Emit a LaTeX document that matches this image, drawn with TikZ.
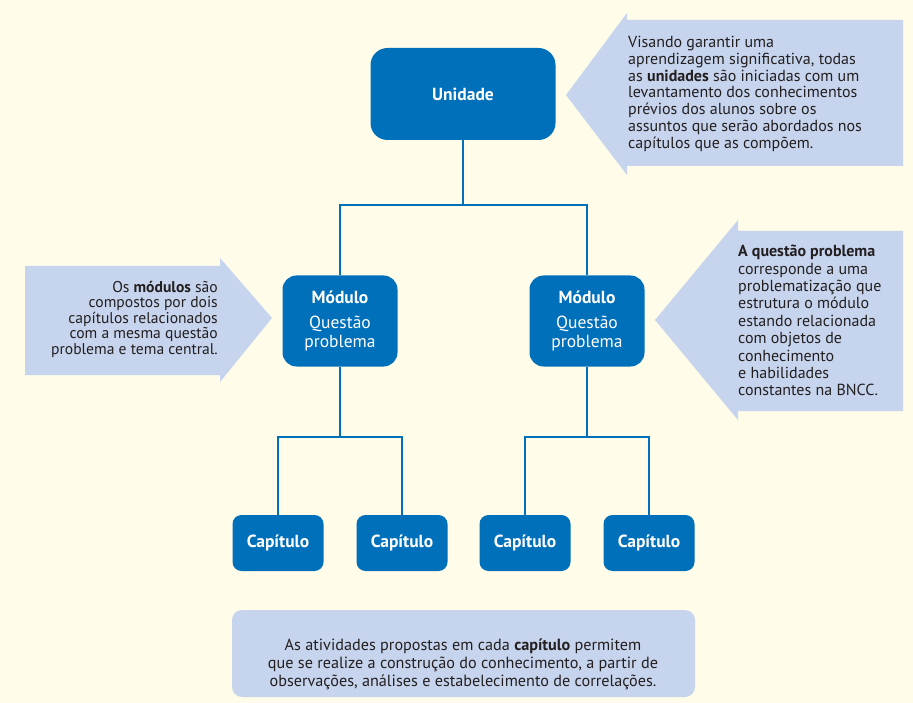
\documentclass[tikz,border=0pt]{standalone}
\usepackage{fontspec}
\setmainfont{PT Sans}
\usetikzlibrary{positioning}
\definecolor{azul}{RGB}{0,112,186}
\definecolor{claro}{RGB}{198,212,237}
\definecolor{fundo}{RGB}{255,252,234}
\definecolor{tinta}{RGB}{35,31,32}

\begin{document}
\begin{tikzpicture}
	[x=1pt, y=-1pt,
	box/.style = {fill=azul, text=white, align=center, inner sep=0pt, font=\fontsize{17.5}{19}\selectfont},
	nota/.style = {text=tinta, inner sep=0pt},
	liga/.style = {draw=azul, line width=1.5pt}]
	\fill[fundo] (0,0) rectangle (913,703);
	\useasboundingbox (0,0) rectangle (913,703);
	% setas de fundo
	\fill[claro] (566,95) -- (627,13) -- (627,20) -- (903,20) -- (903,166) -- (627,166) -- (627,175) -- cycle;
	\fill[claro] (25,266) -- (220,266) -- (220,258) -- (272,318) -- (220,382) -- (220,375) -- (25,375) -- cycle;
	\fill[claro] (655,320) -- (738,220) -- (738,231) -- (903,231) -- (903,411) -- (738,411) -- (738,420) -- cycle;
	\fill[claro, rounded corners=10pt] (232,610) rectangle (695,697);
	% caixas
	\node[box, rounded corners=17pt, minimum width=185pt, minimum height=92pt] (u) at (463,94) {\textbf{Unidade}};
	\node[box, rounded corners=14pt, minimum width=115pt, minimum height=91pt] (m1) at (340,321) {\textbf{Módulo}\\[6pt]Questão\\problema};
	\node[box, rounded corners=14pt, minimum width=115pt, minimum height=91pt] (m2) at (587,321) {\textbf{Módulo}\\[6pt]Questão\\problema};
	\node[box, rounded corners=9pt, minimum width=91pt, minimum height=56pt] (c1) at (278,543) {\textbf{Capítulo}};
	\node[box, rounded corners=9pt, minimum width=91pt, minimum height=56pt] (c2) at (402,543) {\textbf{Capítulo}};
	\node[box, rounded corners=9pt, minimum width=91pt, minimum height=56pt] (c3) at (525,543) {\textbf{Capítulo}};
	\node[box, rounded corners=9pt, minimum width=91pt, minimum height=56pt] (c4) at (649,543) {\textbf{Capítulo}};
	% ligacoes
	\coordinate (j0) at (463,205);
	\coordinate (j1) at (340,437);
	\coordinate (j2) at (587,437);
	\draw[liga] (u) -- (j0);
	\draw[liga] (m1) |- (j0) -| (m2);
	\draw[liga] (m1) -- (j1);
	\draw[liga] (c1) |- (j1) -| (c2);
	\draw[liga] (m2) -- (j2);
	\draw[liga] (c3) |- (j2) -| (c4);
	% textos
	\node[nota, anchor=north west, align=left, font=\fontsize{16}{16.8}\selectfont] (t1) at (628,36)
		{Visando garantir uma\\aprendizagem significativa, todas\\as \textbf{unidades} são iniciadas com um\\levantamento dos conhecimentos\\prévios dos alunos sobre os\\assuntos que serão abordados nos\\capítulos que as compõem.};
	\node[nota, anchor=north east, align=right, font=\fontsize{15.6}{15.5}\selectfont] (t2) at (218,281)
		{Os \textbf{módulos} são\\compostos por dois\\capítulos relacionados\\com a mesma questão\\problema e tema central.};
	\node[nota, anchor=north west, align=left, font=\fontsize{16}{17.4}\selectfont] (t3) at (738,245)
		{\textbf{A questão problema}\\corresponde a uma\\problematização que\\estrutura o módulo\\estando relacionada\\com objetos de\\conhecimento\\e habilidades\\constantes na BNCC.};
	\node[nota, align=center, font=\fontsize{16.2}{18}\selectfont] (t4) at (463,664)
		{As atividades propostas em cada \textbf{capítulo} permitem\\que se realize a construção do conhecimento, a partir de\\observações, análises e estabelecimento de correlações.};
\end{tikzpicture}
\end{document}
